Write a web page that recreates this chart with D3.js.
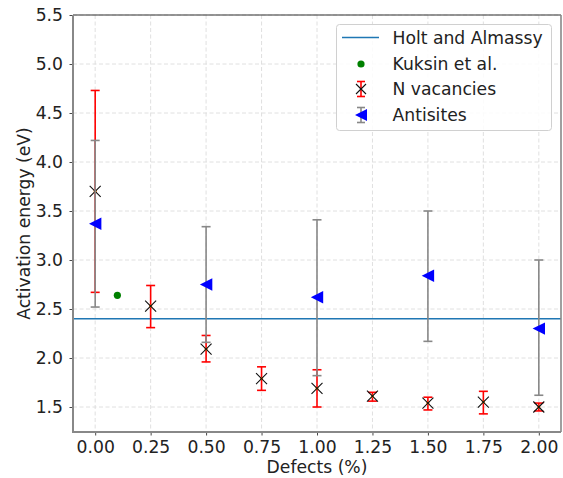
<!DOCTYPE html>
<html><head><meta charset="utf-8">
<script src="https://cdn.jsdelivr.net/npm/d3@7"></script>
<style>body{margin:0;background:#fff}svg{display:block}text{font-family:"DejaVu Sans",sans-serif;fill:#222}</style>
</head><body><svg id="c" width="563" height="478"></svg>
<script>
const xTicks = [0, 0.25, 0.5, 0.75, 1.0, 1.25, 1.5, 1.75, 2.0];
const yTicks = [1.5, 2.0, 2.5, 3.0, 3.5, 4.0, 4.5, 5.0, 5.5];
const vacX = [0, 0.25, 0.5, 0.75, 1.0, 1.25, 1.5, 1.75, 2.0];
const vacY = [3.70, 2.53, 2.09, 1.79, 1.69, 1.61, 1.54, 1.55, 1.50];
const vacLo = [2.67, 2.31, 1.96, 1.67, 1.50, 1.56, 1.47, 1.43, 1.46];
const vacHi = [4.73, 2.74, 2.23, 1.91, 1.88, 1.65, 1.60, 1.66, 1.54];
const antX = [0, 0.5, 1.0, 1.5, 2.0];
const antY = [3.37, 2.75, 2.62, 2.84, 2.30];
const antLo = [2.52, 2.16, 1.82, 2.17, 1.62];
const antHi = [4.22, 3.34, 3.41, 3.50, 3.00];
const kuksinX = [0.1];
const kuksinY = [2.64];
const holtY = 2.40;
const legendLabels = ["Holt and Almassy", "Kuksin et al.", "N vacancies", "Antisites"];

const FS = "17.2px";
const svg = d3.select("#c");
const L = 73, R = 561, T = 15, B = 432;
const x = d3.scaleLinear().domain([-0.1, 2.1]).range([L, R]);
const y = d3.scaleLinear().domain([1.245, 5.5]).range([B, T]);

// grid
const g = svg.append("g");
g.selectAll(".gx").data(xTicks).enter().append("line")
  .attr("x1", d => x(d)).attr("x2", d => x(d)).attr("y1", T).attr("y2", B)
  .attr("stroke", "#dcdcdc").attr("stroke-width", 0.9).attr("stroke-dasharray", "4,2.5");
g.selectAll(".gy").data(yTicks).enter().append("line")
  .attr("y1", d => y(d)).attr("y2", d => y(d)).attr("x1", L).attr("x2", R)
  .attr("stroke", "#dcdcdc").attr("stroke-width", 0.9).attr("stroke-dasharray", "4,2.5");

// axes
const xa = svg.append("g").attr("transform", `translate(0,${B})`)
  .call(d3.axisBottom(x).tickValues(xTicks).tickFormat(d3.format(".2f")).tickSize(3.5).tickPadding(5.5));
const ya = svg.append("g").attr("transform", `translate(${L},0)`)
  .call(d3.axisLeft(y).tickValues(yTicks).tickFormat(d3.format(".1f")).tickSize(3.5).tickPadding(6.5));
[xa, ya].forEach(a => {
  a.select(".domain").remove();
  a.selectAll("text").style("font-size", FS).style("fill", "#222");
  a.selectAll(".tick line").attr("stroke", "#333").attr("stroke-width", 0.9);
});

// Holt line
svg.append("line").attr("x1", L).attr("x2", R).attr("y1", y(holtY)).attr("y2", y(holtY))
  .attr("stroke", "#1f77b4").attr("stroke-width", 1.6);

// Kuksin
svg.selectAll(".k").data(kuksinX).enter().append("circle")
  .attr("cx", d => x(d)).attr("cy", (d, i) => y(kuksinY[i])).attr("r", 3.6).attr("fill", "green");

function errbars(xs, lo, hi, color, cap) {
  const gg = svg.append("g").attr("stroke", color).attr("stroke-width", 1.6);
  xs.forEach((d, i) => {
    gg.append("line").attr("x1", x(d)).attr("x2", x(d)).attr("y1", y(lo[i])).attr("y2", y(hi[i]));
    [lo[i], hi[i]].forEach(v => gg.append("line").attr("x1", x(d) - cap).attr("x2", x(d) + cap).attr("y1", y(v)).attr("y2", y(v)));
  });
}
errbars(vacX, vacLo, vacHi, "red", 4.5);
function xmark(cx, cy, s) {
  svg.append("rect").attr("x", cx - 1.5).attr("y", cy - 1.5).attr("width", 3).attr("height", 3).attr("fill", "#ff7f0e");
  svg.append("path").attr("d", `M${cx - s},${cy - s}L${cx + s},${cy + s}M${cx - s},${cy + s}L${cx + s},${cy - s}`)
    .attr("stroke", "#111").attr("stroke-width", 1.1).attr("fill", "none");
}
vacX.forEach((d, i) => xmark(x(d), y(vacY[i]), 5.5));

errbars(antX, antLo, antHi, "#888", 4.5);
function tri(cx, cy, s) {
  svg.append("path").attr("d", `M${cx - s},${cy}L${cx + s},${cy - s}L${cx + s},${cy + s}Z`).attr("fill", "blue");
}
antX.forEach((d, i) => tri(x(d), y(antY[i]), 6.2));

// spines
svg.append("line").attr("x1", L).attr("x2", R).attr("y1", T).attr("y2", T).attr("stroke", "#333").attr("stroke-width", 1.2);
svg.append("line").attr("x1", R).attr("x2", R).attr("y1", T).attr("y2", B).attr("stroke", "#888").attr("stroke-width", 1.6);
svg.append("line").attr("x1", L).attr("x2", L).attr("y1", T).attr("y2", B + 1).attr("stroke", "#888").attr("stroke-width", 2);
svg.append("line").attr("x1", L - 1).attr("x2", R).attr("y1", B).attr("y2", B).attr("stroke", "#888").attr("stroke-width", 2);

// axis labels
svg.append("text").attr("x", (L + R) / 2).attr("y", 473).attr("text-anchor", "middle").style("font-size", FS).text("Defects (%)");
svg.append("text").attr("transform", `translate(30,${(T + B) / 2}) rotate(-90)`).attr("text-anchor", "middle").style("font-size", FS).text("Activation energy (eV)");

// legend
const lg = svg.append("g");
lg.append("rect").attr("x", 336.5).attr("y", 24.5).attr("width", 215).attr("height", 106).attr("rx", 3)
  .attr("fill", "rgba(255,255,255,0.85)").attr("stroke", "#d0d0d0");
const rows = [37.5, 64, 89, 115];
const hx = 361;
lg.append("line").attr("x1", 342).attr("x2", 379).attr("y1", rows[0]).attr("y2", rows[0]).attr("stroke", "#1f77b4").attr("stroke-width", 1.6);
lg.append("circle").attr("cx", hx).attr("cy", rows[1]).attr("r", 3.6).attr("fill", "green");
(function () {
  const c = rows[2];
  const gg = lg.append("g").attr("stroke", "red").attr("stroke-width", 1.6);
  gg.append("line").attr("x1", hx).attr("x2", hx).attr("y1", c - 7.5).attr("y2", c + 7.5);
  gg.append("line").attr("x1", hx - 4).attr("x2", hx + 4).attr("y1", c - 7.5).attr("y2", c - 7.5);
  gg.append("line").attr("x1", hx - 4).attr("x2", hx + 4).attr("y1", c + 7.5).attr("y2", c + 7.5);
  lg.append("path").attr("d", `M${hx - 5},${c - 5}L${hx + 5},${c + 5}M${hx - 5},${c + 5}L${hx + 5},${c - 5}`).attr("stroke", "#111").attr("stroke-width", 1.1);
})();
(function () {
  const c = rows[3];
  const gg = lg.append("g").attr("stroke", "#888").attr("stroke-width", 1.6);
  gg.append("line").attr("x1", hx).attr("x2", hx).attr("y1", c - 7.5).attr("y2", c + 7.5);
  gg.append("line").attr("x1", hx - 4).attr("x2", hx + 4).attr("y1", c - 7.5).attr("y2", c - 7.5);
  gg.append("line").attr("x1", hx - 4).attr("x2", hx + 4).attr("y1", c + 7.5).attr("y2", c + 7.5);
  lg.append("path").attr("d", `M${hx - 6},${c}L${hx + 6},${c - 6}L${hx + 6},${c + 6}Z`).attr("fill", "blue");
})();
legendLabels.forEach((t, i) => lg.append("text").attr("x", 392.5).attr("y", rows[i] + 6).style("font-size", FS).text(t));
</script></body></html>
